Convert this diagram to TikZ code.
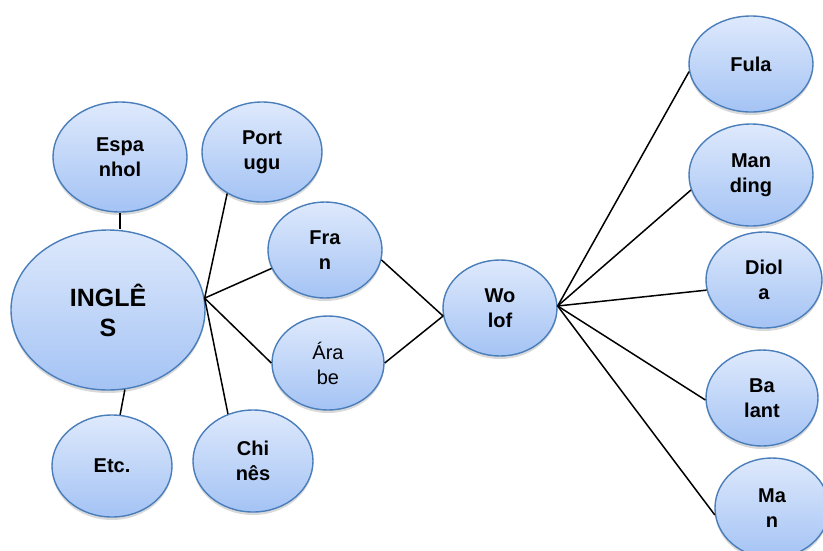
\documentclass[tikz,border=0pt]{standalone}
\usepackage{fontspec}
\setmainfont{Liberation Sans}
\usetikzlibrary{shapes.geometric,shadows}
\definecolor{bordc}{RGB}{74,126,187}
\definecolor{topc}{RGB}{222,233,252}
\definecolor{botc}{RGB}{164,195,244}
\tikzset{
  lang/.style={ellipse, draw=bordc, line width=1.4pt, top color=topc, bottom color=botc,
    inner sep=0pt, align=center, text=black,
    font=\fontsize{20}{25}\selectfont\bfseries,
    drop shadow={shadow xshift=0pt, shadow yshift=-3pt, opacity=0.15, fill=black}},
  conn/.style={draw=black, line width=1.5pt}
}
\newcommand{\eli}[6]{\node[lang, minimum width=#4pt, minimum height=#5pt, #6] (#1) at (#2,#3)}
\begin{document}
\begin{tikzpicture}[x=1pt,y=-1pt]
\useasboundingbox (0,0) rectangle (823,550);
% nodes
\eli{esp}{120}{157}{134}{110}{}{Espa\\nhol};
\eli{port}{262}{152}{120}{100}{}{Port\\ugu};
\eli{ingles}{108}{310}{194}{160}{font=\fontsize{25}{30}\selectfont\bfseries}{INGLÊ\\S};
\eli{fran}{325}{250}{114}{96}{}{Fra\\n};
\eli{arabe}{328}{363}{112}{94}{font=\fontsize{20}{25}\selectfont}{Ára\\be};
\eli{wolof}{500}{308}{114}{96}{}{Wo\\lof};
\eli{fula}{751}{64}{124}{96}{}{Fula};
\eli{mand}{751}{175}{124}{102}{}{Man\\ding};
\eli{diola}{764}{280}{116}{96}{}{Diol\\a};
\eli{balant}{762}{398}{112}{96}{}{Ba\\lant};
\eli{man}{772}{508}{114}{100}{}{Ma\\n};
\eli{etc}{112}{466}{120}{102}{}{Etc.};
\eli{chin}{253}{461}{120}{102}{}{Chi\\nês};
% hubs
\coordinate (h1) at (ingles.7);
\coordinate (h2) at (wolof.188);
\coordinate (h3) at (wolof.2);
% connectors
\draw[conn] (esp.south) -- (esp.south |- ingles.north);
\draw[conn] (ingles.282) -- (etc.81);
\draw[conn] (h1) -- (port.230);
\draw[conn] (h1) -- (fran.199);
\draw[conn] (h1) -- (arabe.west);
\draw[conn] (h1) -- (chin.118);
\draw[conn] (fran.350) -- (h2);
\draw[conn] (arabe.east) -- (h2);
\draw[conn] (h3) -- (fula.187);
\draw[conn] (h3) -- (mand.194);
\draw[conn] (h3) -- (diola.190);
\draw[conn] (h3) -- (balant.182);
\draw[conn] (h3) -- (man.187);
\end{tikzpicture}
\end{document}
